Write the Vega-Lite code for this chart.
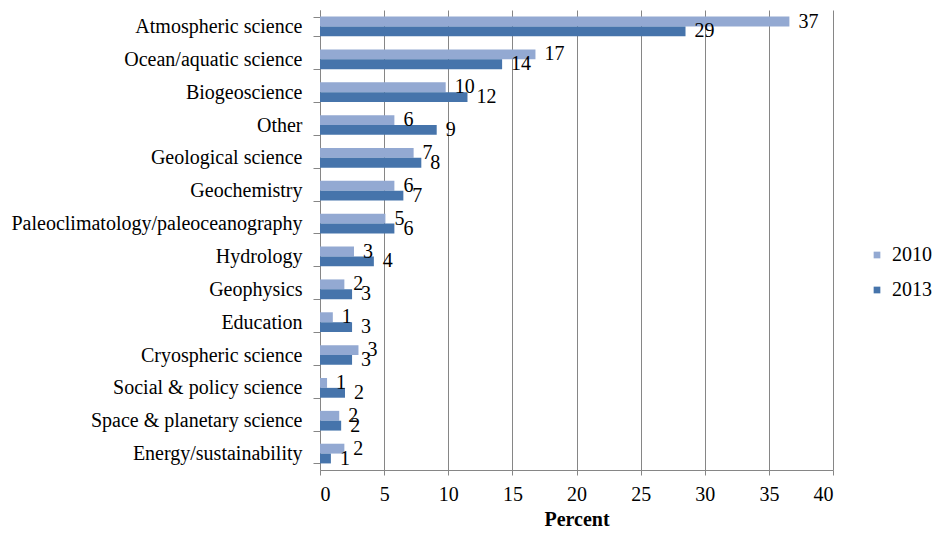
{
  "$schema": "https://vega.github.io/schema/vega-lite/v6.json",
  "width": 513,
  "height": 460,
  "autosize": "none",
  "padding": {"left": 320, "top": 10, "right": 100, "bottom": 63},
  "background": "white",
  "config": {
    "font": "Liberation Serif, Times New Roman, DejaVu Serif, serif",
    "view": {"stroke": null},
    "axis": {"labelFont": "Liberation Serif, Times New Roman, DejaVu Serif, serif", "titleFont": "Liberation Serif, Times New Roman, DejaVu Serif, serif", "labelColor": "#000000", "titleColor": "#000000"},
    "legend": {"labelFont": "Liberation Serif, Times New Roman, DejaVu Serif, serif"},
    "text": {"font": "Liberation Serif, Times New Roman, DejaVu Serif, serif"}
  },
  "data": {
    "values": [
      {"category": "Atmospheric science", "year": "2010", "value": 36.6},
      {"category": "Atmospheric science", "year": "2013", "value": 28.5},
      {"category": "Ocean/aquatic science", "year": "2010", "value": 16.8},
      {"category": "Ocean/aquatic science", "year": "2013", "value": 14.2},
      {"category": "Biogeoscience", "year": "2010", "value": 9.8},
      {"category": "Biogeoscience", "year": "2013", "value": 11.5},
      {"category": "Other", "year": "2010", "value": 5.8},
      {"category": "Other", "year": "2013", "value": 9.1},
      {"category": "Geological science", "year": "2010", "value": 7.3},
      {"category": "Geological science", "year": "2013", "value": 7.9},
      {"category": "Geochemistry", "year": "2010", "value": 5.8},
      {"category": "Geochemistry", "year": "2013", "value": 6.5},
      {"category": "Paleoclimatology/paleoceanography", "year": "2010", "value": 5.1},
      {"category": "Paleoclimatology/paleoceanography", "year": "2013", "value": 5.8},
      {"category": "Hydrology", "year": "2010", "value": 2.65},
      {"category": "Hydrology", "year": "2013", "value": 4.2},
      {"category": "Geophysics", "year": "2010", "value": 1.9},
      {"category": "Geophysics", "year": "2013", "value": 2.5},
      {"category": "Education", "year": "2010", "value": 1.0},
      {"category": "Education", "year": "2013", "value": 2.5},
      {"category": "Cryospheric science", "year": "2010", "value": 3.0},
      {"category": "Cryospheric science", "year": "2013", "value": 2.5},
      {"category": "Social & policy science", "year": "2010", "value": 0.55},
      {"category": "Social & policy science", "year": "2013", "value": 1.95},
      {"category": "Space & planetary science", "year": "2010", "value": 1.5},
      {"category": "Space & planetary science", "year": "2013", "value": 1.65},
      {"category": "Energy/sustainability", "year": "2010", "value": 1.9},
      {"category": "Energy/sustainability", "year": "2013", "value": 0.85}
    ]
  },
  "encoding": {
    "y": {
      "field": "category",
      "type": "nominal",
      "sort": null,
      "title": null,
      "scale": {"paddingInner": 0.4, "paddingOuter": 0.2},
      "axis": {
        "labelFontSize": 20,
        "labelPadding": 11,
        "tickSize": 7,
        "tickBand": "extent",
        "tickColor": "#868686",
        "domainColor": "#868686",
        "labelLimit": 400
      }
    },
    "x": {
      "field": "value",
      "type": "quantitative",
      "title": "Percent",
      "scale": {"domain": [0, 40], "nice": false},
      "axis": {
        "values": [0, 5, 10, 15, 20, 25, 30, 35, 40],
        "labelFontSize": 20,
        "labelPadding": 9,
        "tickSize": 5,
        "tickColor": "#868686",
        "domainColor": "#868686",
        "gridColor": "#868686",
        "titleFontSize": 20,
        "titleFontWeight": "bold",
        "titlePadding": 5
      }
    },
    "yOffset": {"field": "year", "type": "nominal", "sort": ["2010", "2013"], "scale": {"paddingInner": 0, "paddingOuter": 0}}
  },
  "layer": [
    {
      "mark": {"type": "bar"},
      "encoding": {
        "color": {
          "field": "year",
          "type": "nominal",
          "scale": {"domain": ["2010", "2013"], "range": ["#93A9D2", "#4674AB"]},
          "legend": {
            "title": null,
            "orient": "none",
            "legendX": 547,
            "legendY": 235,
            "symbolType": "square",
            "symbolSize": 45,
            "labelFontSize": 20,
            "labelColor": "#000000",
            "rowPadding": 15,
            "labelOffset": 5,
            "padding": 0
          }
        }
      }
    },
    {
      "mark": {"type": "text", "align": "left", "baseline": "middle", "dx": 9, "fontSize": 20, "font": "Liberation Serif, Times New Roman, DejaVu Serif, serif", "color": "#000000"},
      "encoding": {
        "text": {"field": "value", "type": "quantitative", "format": ".0f"}
      }
    }
  ]
}
